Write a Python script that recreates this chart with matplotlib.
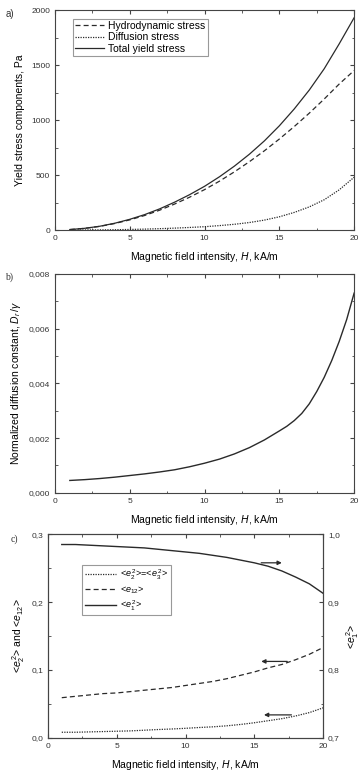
"""
Three stacked panels: yield stress components, normalized diffusion constant,
and orientation moments vs magnetic field intensity.
"""

import matplotlib
matplotlib.use("Agg")
import matplotlib.pyplot as plt
from matplotlib.ticker import MultipleLocator, FuncFormatter

plt.rcParams['font.family'] = ['Liberation Sans', 'DejaVu Sans']
plt.rcParams['mathtext.fontset'] = 'custom'
plt.rcParams['mathtext.rm'] = 'Liberation Sans'
plt.rcParams['mathtext.it'] = 'Liberation Sans:italic'

# field intensity H, kA/m
H = [1, 2, 3, 4, 5, 6, 7, 8, 9, 10, 11, 12, 13, 14, 15, 16, 17, 18, 19, 20]

# panel a: yield stress components, Pa
hydro = [4, 15, 33, 59, 92, 132, 180, 236, 298, 367, 444, 529, 621, 720, 827,
         941, 1062, 1191, 1327, 1450]
diffusion = [0.1, 0.5, 1.2, 2.5, 5, 8, 12, 17, 23, 30, 40, 52, 68, 90, 120,
             160, 210, 275, 365, 480]
total = [h + d for h, d in zip(hydro, diffusion)]

# panel b: normalized diffusion constant (denser read near the steep end)
H_b = [1, 2, 3, 4, 5, 6, 7, 8, 9, 10, 11, 12, 13, 14, 15, 15.5, 16, 16.5, 17,
       17.5, 18, 18.5, 19, 19.5, 20]
D_norm = [0.00045, 0.00048, 0.00052, 0.00057, 0.00063, 0.00069, 0.00076,
          0.00084, 0.00095, 0.00108, 0.00123, 0.00142, 0.00165, 0.00193,
          0.00226, 0.00243, 0.00264, 0.0029, 0.00325, 0.0037, 0.00422,
          0.00483, 0.00553, 0.00633, 0.0073]

# panel c: orientation moments
e2_sq = [0.008, 0.008, 0.0085, 0.009, 0.0095, 0.010, 0.011, 0.012, 0.0128,
         0.0138, 0.015, 0.016, 0.0175, 0.0195, 0.022, 0.025, 0.028, 0.032,
         0.037, 0.044]
e12 = [0.059, 0.061, 0.063, 0.065, 0.066, 0.068, 0.070, 0.072, 0.074, 0.077,
       0.080, 0.083, 0.087, 0.092, 0.097, 0.103, 0.108, 0.115, 0.123, 0.133]
e1_sq = [0.985, 0.985, 0.984, 0.983, 0.982, 0.981, 0.980, 0.978, 0.976, 0.974,
         0.972, 0.969, 0.966, 0.962, 0.958, 0.953, 0.946, 0.937, 0.927, 0.913]

LINE = '#2a2a2a'
XLABEL = 'Magnetic field intensity, $H$, kA/m'


def comma(fmt):
    return FuncFormatter(lambda v, p: (fmt % v).replace('.', ','))


def style_axes(ax, right=True):
    for s in ax.spines.values():
        s.set_color('#444444')
        s.set_linewidth(0.8)
    ax.tick_params(which='both', direction='in', top=True, right=right,
                   labelsize=6, colors='#444444', labelcolor='#333333')
    ax.tick_params(which='major', length=3)
    ax.tick_params(which='minor', length=1.8)


fig = plt.figure(figsize=(3.61, 7.76), dpi=100)

# ---- a) yield stress
ax1 = fig.add_axes([0.152, 0.7036, 0.829, 0.2835])
ax1.plot(H, hydro, ls=(0, (4, 2.5)), color=LINE, lw=0.9, label='Hydrodynamic stress')
ax1.plot(H, diffusion, ls=(0, (1, 1)), color=LINE, lw=0.9, label='Diffusion stress')
ax1.plot(H, total, ls='-', color=LINE, lw=0.9, label='Total yield stress')
ax1.set_xlim(0, 20)
ax1.set_ylim(0, 2000)
ax1.xaxis.set_major_locator(MultipleLocator(5))
ax1.xaxis.set_minor_locator(MultipleLocator(2.5))
ax1.yaxis.set_major_locator(MultipleLocator(500))
ax1.yaxis.set_minor_locator(MultipleLocator(250))
style_axes(ax1)
ax1.set_xlabel(XLABEL, fontsize=7.5, labelpad=6)
ax1.set_ylabel('Yield stress components, Pa', fontsize=7.5, labelpad=4)
leg = ax1.legend(loc='upper left', bbox_to_anchor=(0.06, 0.96), fontsize=7.5,
                 fancybox=False, edgecolor='#999999', framealpha=1,
                 handlelength=2.8, borderpad=0.2, labelspacing=0.15,
                 borderaxespad=0, handletextpad=0.4)
leg.get_frame().set_linewidth(0.8)
fig.text(0.015, 0.978, 'a)', fontsize=7, color='#333333')

# ---- b) diffusion constant
ax2 = fig.add_axes([0.152, 0.365, 0.829, 0.282])
ax2.plot(H_b, D_norm, color=LINE, lw=1.0)
ax2.set_xlim(0, 20)
ax2.set_ylim(0, 0.008)
ax2.xaxis.set_major_locator(MultipleLocator(5))
ax2.xaxis.set_minor_locator(MultipleLocator(2.5))
ax2.yaxis.set_major_locator(MultipleLocator(0.002))
ax2.yaxis.set_minor_locator(MultipleLocator(0.001))
ax2.yaxis.set_major_formatter(comma('%.3f'))
style_axes(ax2)
ax2.set_xlabel(XLABEL, fontsize=7.5, labelpad=6)
ax2.set_ylabel(r'Normalized diffusion constant, $D_r\,/\gamma$', fontsize=7.5,
               labelpad=4)
fig.text(0.015, 0.64, 'b)', fontsize=7, color='#333333', family='Liberation Serif')

# ---- c) orientation moments
ax3 = fig.add_axes([0.133, 0.0494, 0.762, 0.262])
ax3r = ax3.twinx()
l1, = ax3.plot(H, e2_sq, ls=(0, (1, 1)), color=LINE, lw=0.9)
l2, = ax3.plot(H, e12, ls=(0, (4, 2.5)), color=LINE, lw=0.9)
l3, = ax3r.plot(H, e1_sq, ls='-', color=LINE, lw=1.0)
ax3.set_xlim(0, 20)
ax3.set_ylim(0, 0.3)
ax3r.set_ylim(0.7, 1.0)
ax3.xaxis.set_major_locator(MultipleLocator(5))
ax3.xaxis.set_minor_locator(MultipleLocator(2.5))
ax3.yaxis.set_major_locator(MultipleLocator(0.1))
ax3.yaxis.set_minor_locator(MultipleLocator(0.05))
ax3r.yaxis.set_major_locator(MultipleLocator(0.1))
ax3r.yaxis.set_minor_locator(MultipleLocator(0.05))
ax3.yaxis.set_major_formatter(comma('%.1f'))
ax3r.yaxis.set_major_formatter(comma('%.1f'))
style_axes(ax3, right=False)
style_axes(ax3r)
ax3r.tick_params(which='both', top=False, left=False)
ax3.set_xlabel(XLABEL, fontsize=7.5, labelpad=6)
ax3.set_ylabel(r'<$e_2^{\,2}$> and <$e_{12}$>', fontsize=7.5, labelpad=3)
ax3r.set_ylabel(r'<$e_1^{\,2}$>', fontsize=7.5, labelpad=3)

arrow = dict(arrowstyle='-|>', color=LINE, lw=0.9, mutation_scale=6)
ax3.annotate('', xy=(17.2, 0.258), xytext=(15.3, 0.258), arrowprops=arrow)
ax3.annotate('', xy=(15.3, 0.1125), xytext=(17.6, 0.1125), arrowprops=arrow)
ax3.annotate('', xy=(15.5, 0.0336), xytext=(17.9, 0.0336), arrowprops=arrow)

leg3 = ax3.legend([l1, l2, l3],
                  [r'<$e_2^{\,2}$>=<$e_3^{\,2}$>', r'<$e_{12}$>', r'<$e_1^{\,2}$>'],
                  loc='upper left', bbox_to_anchor=(0.124, 0.851), fontsize=6.5,
                  fancybox=False, edgecolor='#999999', framealpha=1,
                  handlelength=3.4, borderpad=0.3, labelspacing=0.3,
                  borderaxespad=0, handletextpad=0.5)
leg3.get_frame().set_linewidth(0.8)
fig.text(0.03, 0.302, 'c)', fontsize=7, color='#333333', family='Liberation Serif')

fig.savefig('out.png', dpi=100)
